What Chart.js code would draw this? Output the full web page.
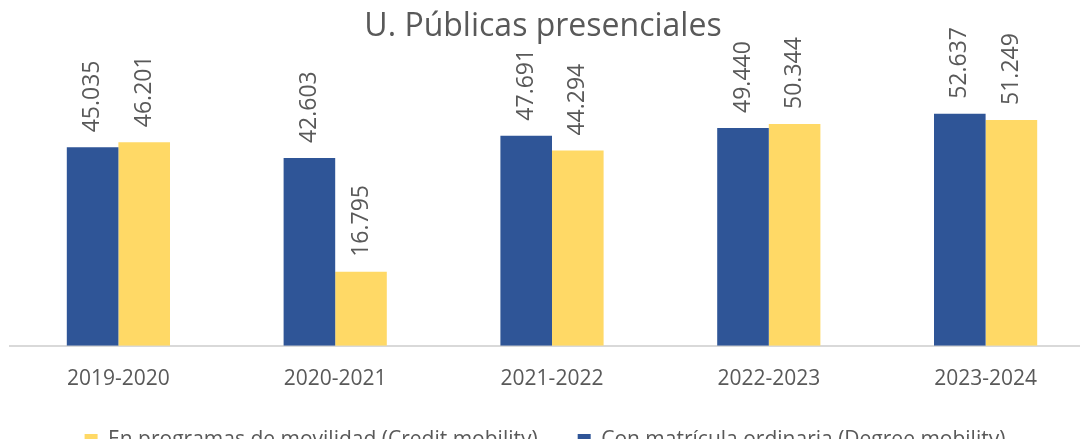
<!DOCTYPE html>
<html>
<head>
<meta charset="utf-8">
<script src="https://cdn.jsdelivr.net/npm/chart.js@4"></script>
<style>
  html, body { margin: 0; padding: 0; background: #fff; overflow: hidden; }
  #wrap { position: relative; width: 1094px; height: 476px; }
</style>
</head>
<body>
<div id="wrap"><canvas id="movilidadChart"></canvas></div>
<script>
const cursos = ['2019-2020', '2020-2021', '2021-2022', '2022-2023', '2023-2024'];
const degreeMobility = [45035, 42603, 47691, 49440, 52637];
const creditMobility = [46201, 16795, 44294, 50344, 51249];

const textGray = '#595959';

function formatEs(v) {
    return String(v).replace(/\B(?=(\d{3})+(?!\d))/g, '.');
}

// rotated value labels above every bar
const barLabels = {
    id: 'barLabels',
    afterDatasetsDraw(chart) {
        const ctx = chart.ctx;
        ctx.save();
        ctx.font = '23px "Open Sans"';
        ctx.fillStyle = textGray;
        ctx.textAlign = 'left';
        ctx.textBaseline = 'middle';
        chart.data.datasets.forEach((ds, i) => {
            chart.getDatasetMeta(i).data.forEach((bar, j) => {
                ctx.save();
                ctx.translate(bar.x, bar.y - 15);
                ctx.rotate(-Math.PI / 2);
                ctx.fillText(formatEs(ds.data[j]), 0, 0);
                ctx.restore();
            });
        });
        ctx.restore();
    }
};

// nudge title and legend so they sit where the original has them
const nudgeBoxes = {
    id: 'nudgeBoxes',
    afterLayout(chart) {
        const lg = chart.legend;
        lg.top -= 15; lg.bottom -= 15;
        lg.left -= 7; lg.right -= 7;
        const tb = chart.titleBlock;
        tb.left -= 9; tb.right -= 9;
    }
};

const ctx = document.getElementById('movilidadChart');
new Chart(ctx, {
    type: 'bar',
    data: {
        labels: cursos,
        datasets: [
            {
                label: 'Con matrícula ordinaria (Degree mobility)',
                data: degreeMobility,
                backgroundColor: '#2F5597'
            },
            {
                label: 'En programas de movilidad (Credit mobility)',
                data: creditMobility,
                backgroundColor: '#FFD966'
            }
        ]
    },
    options: {
        responsive: true,
        maintainAspectRatio: false,
        animation: false,
        layout: { padding: { left: 10, right: 0, top: 0, bottom: 0 } },
        datasets: {
            bar: { barPercentage: 1.0, categoryPercentage: 0.476 }
        },
        plugins: {
            title: {
                display: true,
                text: 'U. Públicas presenciales',
                color: textGray,
                font: { family: 'Open Sans', size: 32, weight: 'normal' },
                padding: { top: 8, bottom: 35 }
            },
            legend: {
                position: 'bottom',
                reverse: true,
                labels: {
                    color: textGray,
                    font: { family: 'Open Sans', size: 21 },
                    boxWidth: 13,
                    boxHeight: 13,
                    padding: 40
                }
            },
            tooltip: { enabled: false }
        },
        scales: {
            x: {
                grid: { display: false },
                border: { display: true, color: '#D9D9D9', width: 2 },
                ticks: {
                    color: textGray,
                    font: { family: 'Open Sans', size: 21 },
                    padding: 13
                }
            },
            y: {
                display: false,
                min: 0,
                max: 60000
            }
        }
    },
    plugins: [barLabels, nudgeBoxes]
});
</script>
</body>
</html>
